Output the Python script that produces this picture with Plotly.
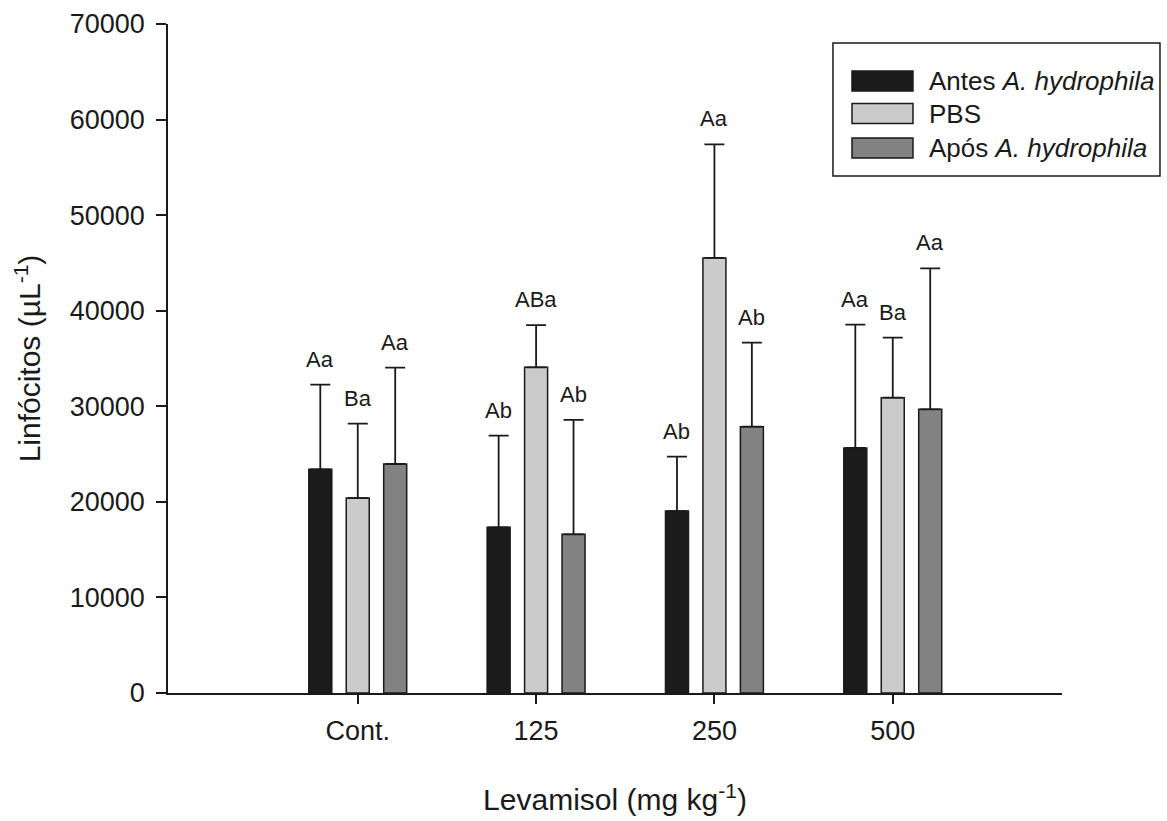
import plotly.graph_objects as go

categories = ["Cont.", "125", "250", "500"]
series_names = ["Antes <i>A. hydrophila</i>", "PBS", "Após <i>A. hydrophila</i>"]
antes_mean = [23400, 17340, 19040, 25640]
antes_sd = [8860, 9580, 5690, 12900]
pbs_mean = [20400, 34080, 45520, 30900]
pbs_sd = [7780, 4420, 11890, 6280]
apos_mean = [23960, 16600, 27870, 29680]
apos_sd = [10080, 11970, 8790, 14760]
antes_letters = ["Aa", "Ab", "Ab", "Aa"]
pbs_letters = ["Ba", "ABa", "Aa", "Ba"]
apos_letters = ["Aa", "Ab", "Ab", "Aa"]
y_ticks = [0, 10000, 20000, 30000, 40000, 50000, 60000, 70000]

colors = ["#1b1b1b", "#cbcbcb", "#828282"]
FONT = "Arial, Liberation Sans, sans-serif"
INK = "#1a1a1a"

means = [antes_mean, pbs_mean, apos_mean]
sds = [antes_sd, pbs_sd, apos_sd]
letters = [antes_letters, pbs_letters, apos_letters]

offset = 0.21
width = 0.129

fig = go.Figure()
for j in range(3):
    xs = [i + (j - 1) * offset for i in range(len(categories))]
    fig.add_trace(go.Bar(
        x=xs, y=means[j], width=width,
        name=series_names[j],
        marker=dict(color=colors[j], line=dict(color=INK, width=1.5)),
        error_y=dict(type="data", array=sds[j], arrayminus=[0] * len(sds[j]),
                     symmetric=False, thickness=1.8, width=10, color=INK),
        showlegend=False,
    ))
    for i in range(len(categories)):
        fig.add_annotation(
            x=xs[i], y=means[j][i] + sds[j][i], text=letters[j][i],
            showarrow=False, yanchor="bottom", yshift=11,
            font=dict(family=FONT, size=22, color=INK),
        )

# manual legend (box with wide swatches)
fig.add_shape(type="rect", xref="paper", yref="paper",
              x0=0.7438, x1=1.1096, y0=0.7728, y1=0.9716,
              line=dict(color=INK, width=1.5), fillcolor="white")
row_y = [0.9147, 0.8662, 0.8146]
for j in range(3):
    fig.add_shape(type="rect", xref="paper", yref="paper",
                  x0=0.7651, x1=0.8333, y0=row_y[j] - 0.0150, y1=row_y[j] + 0.0150,
                  line=dict(color=INK, width=1.5), fillcolor=colors[j])
    fig.add_annotation(xref="paper", yref="paper", x=0.849, y=row_y[j],
                       xanchor="left", yanchor="middle", showarrow=False,
                       text=series_names[j],
                       font=dict(family=FONT, size=26, color=INK))

fig.update_layout(
    width=1167, height=821,
    margin=dict(l=168, r=105, t=24, b=128),
    paper_bgcolor="white", plot_bgcolor="white",
    barmode="overlay",
    font=dict(family=FONT, color=INK),
    showlegend=False,
)
fig.update_xaxes(
    range=[-1.064, 3.949], automargin=False,
    tickvals=list(range(len(categories))), ticktext=categories,
    showline=True, linecolor=INK, linewidth=1.5,
    ticks="outside", ticklen=9, tickwidth=1.5, tickcolor=INK,
    showgrid=False, zeroline=False,
    tickfont=dict(family=FONT, size=27, color=INK),
    ticklabelstandoff=4,
    title=dict(text="Levamisol (mg kg<sup>-1</sup>)",
               font=dict(family=FONT, size=30, color=INK), standoff=44),
)
fig.update_yaxes(
    range=[0, 70000], tickvals=y_ticks, tickformat="d", automargin=False,
    showline=True, linecolor=INK, linewidth=1.5,
    ticks="outside", ticklen=10, tickwidth=1.5, tickcolor=INK,
    showgrid=False, zeroline=False,
    tickfont=dict(family=FONT, size=27, color=INK),
    ticklabelstandoff=6,
    title=dict(text="Linfócitos (µL<sup>-1</sup>)",
               font=dict(family=FONT, size=30, color=INK), standoff=20),
)

fig.write_html("out.html")
